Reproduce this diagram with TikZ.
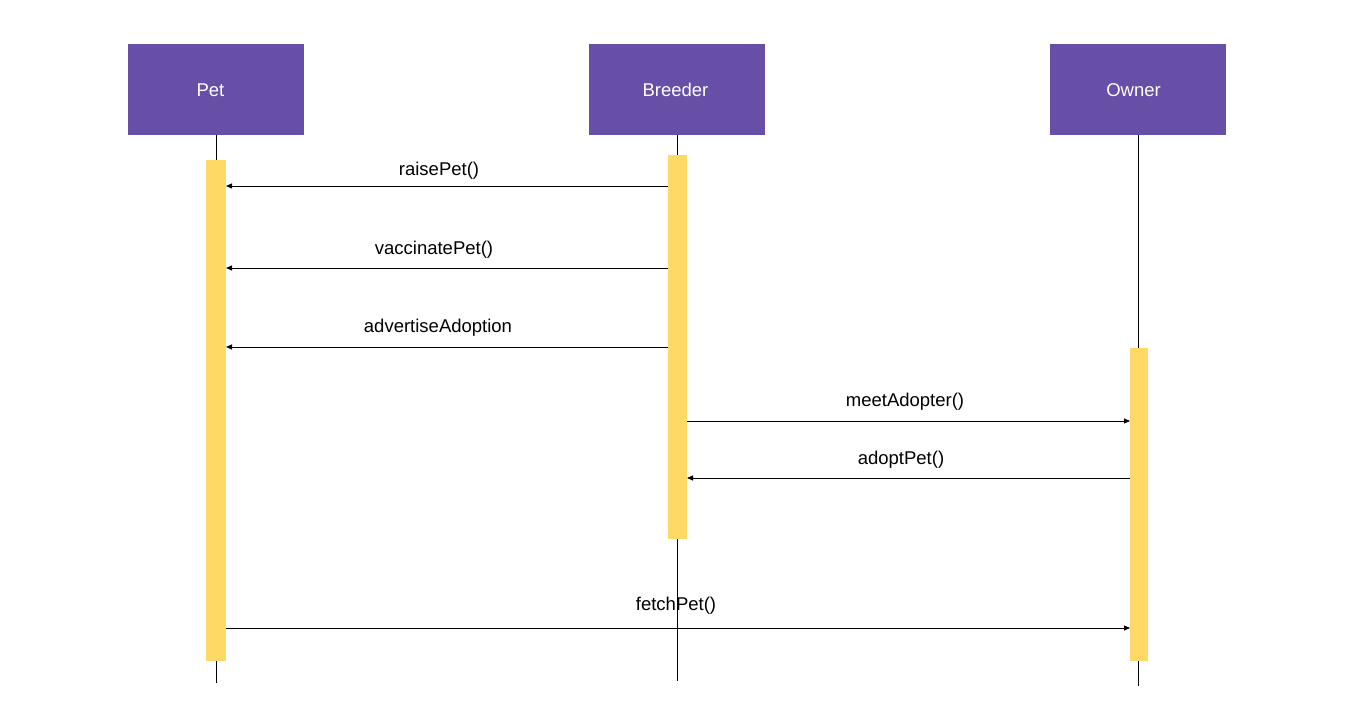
\documentclass[tikz,border=0pt]{standalone}
\usepackage{fontspec}
\setmainfont{Liberation Sans}
\usetikzlibrary{arrows.meta}
\definecolor{actor}{HTML}{674EA7}
\definecolor{activ}{HTML}{FFD966}
\tikzset{
  actorbox/.style={fill=actor, draw=none, minimum width=176pt, minimum height=91pt, inner sep=0pt},
  actortext/.style={text=white, font=\fontsize{18.5}{22}\selectfont, inner sep=0pt},
  activation/.style={fill=activ, draw=none},
  lifeline/.style={draw=black, line width=0.8pt},
  msg/.style={draw=black, line width=0.8pt, -{Triangle[length=6pt,width=5pt]}},
  msglabel/.style={font=\fontsize{18.5}{22}\selectfont, inner sep=0pt}
}
\begin{document}
\begin{tikzpicture}[x=1pt,y=-1pt]
\useasboundingbox (0,0) rectangle (1355,703);
% participants
\node[actorbox] (pet) at (216,89.5) {};
\node[actorbox] (breeder) at (677,89.5) {};
\node[actorbox] (owner) at (1138,89.5) {};
\node[actortext] (pettext) at (210.5,90) {Pet};
\node[actortext] (breedertext) at (675.5,90) {Breeder};
\node[actortext] (ownertext) at (1133.5,90) {Owner};
% lifeline ends
\coordinate (petend) at (216,683);
\coordinate (breederend) at (677,681);
\coordinate (ownerend) at (1138,686);
\draw[lifeline] (pet.south) -- (petend);
\draw[lifeline] (breeder.south) -- (breederend);
\draw[lifeline] (owner.south) -- (ownerend);
% activation bars
\path[activation] (206,160) rectangle (226,661);
\path[activation] (668,155) rectangle (687,539);
\path[activation] (1130,348) rectangle (1148,661);
% message endpoints
\coordinate (b1) at (668,186); \coordinate (p1) at (226,186);
\coordinate (b2) at (668,268); \coordinate (p2) at (226,268);
\coordinate (b3) at (668,347); \coordinate (p3) at (226,347);
\coordinate (b4) at (687,421); \coordinate (o4) at (1130,421);
\coordinate (o5) at (1130,478); \coordinate (b5) at (687,478);
\coordinate (p6) at (226,628); \coordinate (o6) at (1130,628);
% messages
\draw[msg] (b1) -- (p1);
\draw[msg] (b2) -- (p2);
\draw[msg] (b3) -- (p3);
\draw[msg] (b4) -- (o4);
\draw[msg] (o5) -- (b5);
\draw[msg] (p6) -- (o6);
% message labels
\node[msglabel] (l1) at (439,171) {raisePet()};
\node[msglabel] (l2) at (434,250) {vaccinatePet()};
\node[msglabel] (l3) at (438,328) {advertiseAdoption};
\node[msglabel] (l4) at (905,402) {meetAdopter()};
\node[msglabel] (l5) at (901,460) {adoptPet()};
\node[msglabel] (l6) at (676,606) {fetchPet()};
\end{tikzpicture}
\end{document}
